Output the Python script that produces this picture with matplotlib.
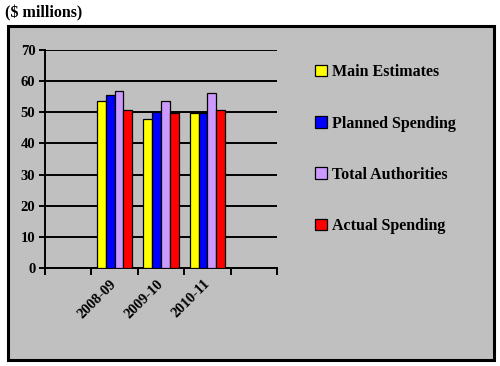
import matplotlib.pyplot as plt
import matplotlib.transforms as mtransforms
import numpy as np
from matplotlib.patches import Rectangle

years = ['2008-09', '2009-10', '2010-11']
series = ['Main Estimates', 'Planned Spending', 'Total Authorities', 'Actual Spending']
main_estimates = [53.6, 48.0, 49.9]
planned_spending = [55.4, 50.1, 49.8]
total_authorities = [56.7, 53.6, 56.1]
actual_spending = [50.7, 49.9, 50.8]
colors = ['#FFFF00', '#0000FF', '#CC99FF', '#FF0000']

plt.rcParams['font.family'] = ['Liberation Serif', 'DejaVu Serif']
plt.rcParams['font.weight'] = 'bold'

fig = plt.figure(figsize=(5, 3.66), dpi=100)
fig.patch.set_facecolor('white')

# grey chart area with black border
box = Rectangle((8 / 500, 1 - 360 / 366), 486 / 500, 334 / 366, transform=fig.transFigure,
                facecolor='#C0C0C0', edgecolor='black', linewidth=2.2, zorder=-1)
fig.patches.append(box)
fig.text(5 / 500, 1 - 13 / 366, '($ millions)', fontsize=11.5, fontweight='bold', va='center', ha='left')

ax = fig.add_axes([45 / 500, 1 - 268 / 366, 232 / 500, 218 / 366])
ax.set_facecolor('#C0C0C0')

# the chart has two empty category slots, one on each side
x = np.arange(1, len(years) + 1)
w = 0.19
values = [main_estimates, planned_spending, total_authorities, actual_spending]
handles = []
for i, (name, vals) in enumerate(zip(series, values)):
    b = ax.bar(x + (i - 1.5) * w, vals, width=w, color=colors[i], edgecolor='black',
               linewidth=0.9, label=name, zorder=3)
    handles.append(b)

ax.set_xlim(-0.5, len(years) + 1.5)
ax.set_ylim(0, 70)
ax.set_yticks(range(0, 71, 10))
ax.yaxis.grid(True, color='black', linewidth=1.4, zorder=1)
ax.set_axisbelow(True)

ax.set_xticks(np.arange(-0.5, len(years) + 2, 1.0))
ax.set_xticklabels([])
ax.set_xticks(x, minor=True)
ax.set_xticklabels(years, minor=True, rotation=45, ha='right', va='center',
                   rotation_mode='anchor', fontsize=10.5, fontweight='bold')
shift = mtransforms.ScaledTranslation(-4 / 100, 0, fig.dpi_scale_trans)
for lab in ax.get_xticklabels(minor=True):
    lab.set_transform(lab.get_transform() + shift)
ax.tick_params(axis='x', which='major', direction='out', length=5, width=1.4, color='black')
ax.tick_params(axis='x', which='minor', length=0, pad=10)
ax.tick_params(axis='y', direction='out', length=4, width=1.4, labelsize=10.5, pad=3)
for lab in ax.get_yticklabels():
    lab.set_fontweight('bold')

for s in ['top', 'right']:
    ax.spines[s].set_visible(False)
for s in ['left', 'bottom']:
    ax.spines[s].set_linewidth(1.4)

leg = fig.legend(handles=handles, labels=series, loc='upper left',
                 bbox_to_anchor=(301 / 500, 1 - 50 / 366), frameon=False,
                 labelspacing=2.2, handlelength=0.7, handleheight=0.7,
                 handletextpad=0.35, prop={'weight': 'bold', 'size': 11.5})

fig.savefig('out.png', dpi=100)
